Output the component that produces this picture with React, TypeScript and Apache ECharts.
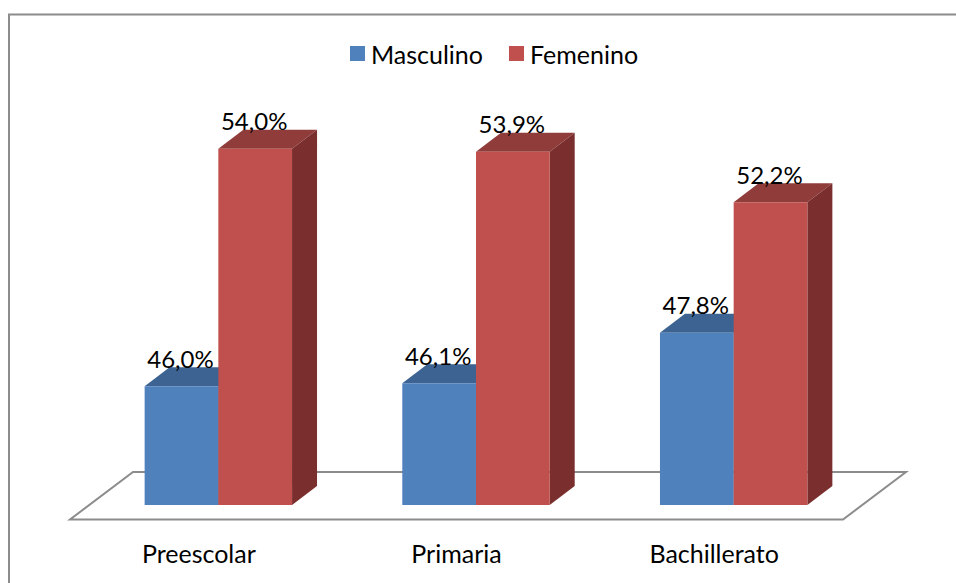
import React, { useEffect, useRef } from "react";
import * as echarts from "echarts";

const categories = ["Preescolar", "Primaria", "Bachillerato"];
const masculino = [46.0, 46.1, 47.8];
const femenino = [54.0, 53.9, 52.2];
const AXIS_MIN = 42;
const AXIS_MAX = 56;
const FONT = "Lato, 'Open Sans', sans-serif";

const BAR_W = 73.7;
const DX = 25;
const DY = 19;
const FLOOR_SHIFT = 19.5;

const make3dBar = (side: number, front: string, top: string, right: string) =>
  (_params: any, api: any) => {
    const cat = api.value(0);
    const val = api.value(1);
    const t = api.coord([cat, val]);
    const b = api.coord([cat, AXIS_MIN]);
    const x0 = t[0] + FLOOR_SHIFT + (side < 0 ? -BAR_W : 0);
    const x1 = x0 + BAR_W;
    const yt = t[1];
    const yb = b[1];
    const label = val.toFixed(1).replace(".", ",") + "%";
    return {
      type: "group",
      children: [
        {
          type: "polygon",
          shape: { points: [[x0, yt], [x1, yt], [x1 + DX, yt - DY], [x0 + DX, yt - DY]] },
          style: { fill: top },
        },
        {
          type: "polygon",
          shape: { points: [[x1, yt], [x1 + DX, yt - DY], [x1 + DX, yb - DY], [x1, yb]] },
          style: { fill: right },
        },
        { type: "rect", shape: { x: x0, y: yt, width: BAR_W, height: yb - yt }, style: { fill: front } },
        {
          type: "text",
          z2: 10,
          style: {
            x: (x0 + x1) / 2 - 1,
            y: yt - 28,
            text: label,
            fill: "#000",
            font: `24px ${FONT}`,
            align: "center",
            verticalAlign: "middle",
          },
        },
      ],
    };
  };

export default function App() {
  const ref = useRef<HTMLDivElement>(null);
  useEffect(() => {
    const chart = echarts.init(ref.current!, null, { renderer: "svg" });
    chart.setOption({
      animation: false,
      backgroundColor: "#fff",
      grid: { left: 70, width: 773, top: 89.5, bottom: 78 },
      legend: {
        left: 345,
        top: 36,
        icon: "rect",
        itemWidth: 15,
        itemHeight: 15,
        itemGap: 26,
        textStyle: { color: "#000", fontSize: 25, fontFamily: "Lato", padding: [0, 0, 7, 1] },
        data: ["Masculino", "Femenino"],
      },
      xAxis: {
        type: "category",
        data: categories,
        axisLine: { show: false },
        axisTick: { show: false },
        axisLabel: { color: "#000", fontSize: 25, fontFamily: "Lato", margin: 35 },
      },
      yAxis: { type: "value", min: AXIS_MIN, max: AXIS_MAX, show: false, splitLine: { show: false } },
      graphic: [
        {
          type: "polyline",
          z: 0,
          shape: { points: [[956, 14.5], [9, 14.5], [9, 583]] },
          style: { fill: "none", stroke: "#8c8c8c", lineWidth: 2 },
        },
        {
          type: "polygon",
          z: 0,
          shape: { points: [[70, 519.5], [843, 519.5], [906, 472], [133, 472]] },
          style: { fill: "#fff", stroke: "#8c8c8c", lineWidth: 2 },
        },
      ],
      series: [
        {
          name: "Masculino",
          type: "custom",
          encode: { x: 0, y: 1 },
          itemStyle: { color: "#4f81bd" },
          data: masculino.map((v, i) => [i, v]),
          renderItem: make3dBar(-1, "#4f81bd", "#3c6391", "#2f4f75"),
        },
        {
          name: "Femenino",
          type: "custom",
          encode: { x: 0, y: 1 },
          itemStyle: { color: "#c0504d" },
          data: femenino.map((v, i) => [i, v]),
          renderItem: make3dBar(1, "#c0504d", "#8f3c3a", "#7a2f2e"),
        },
      ],
    });
    return () => chart.dispose();
  }, []);
  return <div ref={ref} style={{ position: "absolute", left: 0, top: 0, width: 956, height: 583 }} />;
}
